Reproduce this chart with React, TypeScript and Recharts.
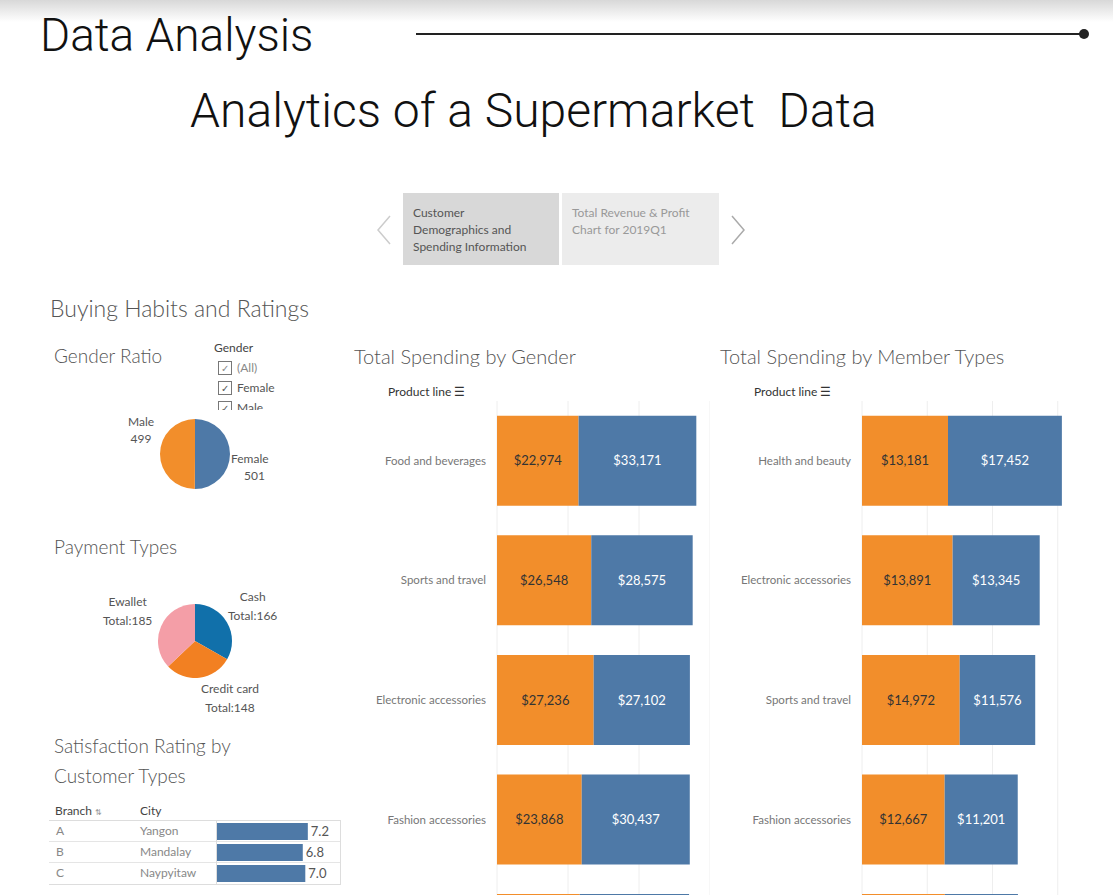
import React from "react";
import { BarChart, Bar, XAxis, YAxis, CartesianGrid, LabelList, PieChart, Pie, Cell } from "recharts";

const genderCategories = ["Food and beverages", "Sports and travel", "Electronic accessories", "Fashion accessories", "Home and lifestyle"];
const genderOrange = [22974, 26548, 27236, 23868, 23300];
const genderBlue = [33171, 28575, 27102, 30437, 30800];

const memberCategories = ["Health and beauty", "Electronic accessories", "Sports and travel", "Fashion accessories", "Food and beverages"];
const memberOrange = [13181, 13891, 14972, 12667, 12700];
const memberBlue = [17452, 13345, 11576, 11201, 11200];

const genderPie = [{ name: "Female", value: 501 }, { name: "Male", value: 499 }];
const paymentPie = [{ name: "Cash", value: 166 }, { name: "Credit card", value: 148 }, { name: "Ewallet", value: 185 }];

const branches = ["A", "B", "C"];
const cities = ["Yangon", "Mandalay", "Naypyitaw"];
const ratings = [7.2, 6.8, 7.0];

const ORANGE = "#f28e2b";
const BLUE = "#4e79a7";
const FONT = "Lato, 'Open Sans', sans-serif";

const genderData = genderCategories.map((c, i) => ({ c, o: genderOrange[i], b: genderBlue[i] }));
const memberData = memberCategories.map((c, i) => ({ c, o: memberOrange[i], b: memberBlue[i] }));
const ratingData = branches.map((b, i) => ({ b, city: cities[i], r: ratings[i] }));

const money = (v: any) => "$" + Number(v).toLocaleString("en-US");

const abs = (x: number, y: number, extra: any = {}) => ({ position: "absolute" as const, left: x, top: y, ...extra });

function SpendChart({ data, left, yw, pw, max, ticks }: any) {
  return (
    <div style={abs(left, 401)}>
      <BarChart width={yw + pw} height={598} data={data} layout="vertical" margin={{ top: 0, right: 0, bottom: 0, left: 0 }} barCategoryGap="12.3%">
        <CartesianGrid horizontal={false} stroke="#eeeeee" />
        <XAxis type="number" hide domain={[0, max]} ticks={ticks} />
        <YAxis type="category" dataKey="c" width={yw} axisLine={false} tickLine={false}
          tick={{ fill: "#777", fontSize: 11.5, fontFamily: FONT }} tickMargin={5} />
        <Bar dataKey="o" stackId="s" fill={ORANGE} isAnimationActive={false}>
          <LabelList dataKey="o" position="center" formatter={money} fill="#333" fontSize={13} fontFamily={FONT} />
        </Bar>
        <Bar dataKey="b" stackId="s" fill={BLUE} isAnimationActive={false}>
          <LabelList dataKey="b" position="center" formatter={money} fill="#fff" fontSize={13} fontFamily={FONT} />
        </Bar>
      </BarChart>
    </div>
  );
}

function Chevron({ x, dir, color }: any) {
  return (
    <svg style={abs(x, 214)} width="18" height="32">
      <polyline points={dir < 0 ? "15,2 3,16 15,30" : "3,2 15,16 3,30"} fill="none" stroke={color} strokeWidth="1.5" />
    </svg>
  );
}

export default function App() {
  const t = { fontFamily: FONT, color: "#555", fontWeight: 300 };
  return (
    <div style={{ position: "fixed", left: 0, top: 0, width: 1113, height: 895, overflow: "hidden", background: "#fff", fontFamily: FONT }}>
      <div style={abs(0, 0, { width: 1113, height: 22, background: "linear-gradient(#d8d8d8, #ffffff)" })} />
      <div style={abs(40, 8, { fontFamily: "Roboto, sans-serif", fontWeight: 300, fontSize: 46, color: "#111" })}>Data Analysis</div>
      <div style={abs(416, 33, { width: 668, height: 2, background: "#222" })} />
      <div style={abs(1079, 29, { width: 10, height: 10, borderRadius: 5, background: "#222" })} />
      <div style={abs(190, 82, { fontFamily: "Roboto, sans-serif", fontWeight: 300, fontSize: 48, color: "#111", whiteSpace: "pre" })}>Analytics of a Supermarket  Data</div>

      <Chevron x={375} dir={-1} color="#ccc" />
      <div style={abs(403, 193, { width: 156, height: 72, background: "#d8d8d8" })}>
        <div style={{ padding: "11px 10px", fontSize: 12, lineHeight: "17px", color: "#555" }}>Customer<br />Demographics and<br />Spending Information</div>
      </div>
      <div style={abs(562, 193, { width: 157, height: 72, background: "#ececec" })}>
        <div style={{ padding: "11px 10px", fontSize: 12, lineHeight: "17px", color: "#999" }}>Total Revenue &amp; Profit<br />Chart for 2019Q1</div>
      </div>
      <Chevron x={729} dir={1} color="#aaa" />

      <div style={abs(50, 294, { ...t, fontSize: 23 })}>Buying Habits and Ratings</div>
      <div style={abs(54, 344, { ...t, fontSize: 19 })}>Gender Ratio</div>
      <div style={abs(214, 338, { fontSize: 12, color: "#444", lineHeight: "20px", height: 72, overflow: "hidden" })}>
        <div>Gender</div>
        {["(All)", "Female", "Male"].map((g) => (
          <div key={g} style={{ display: "flex", alignItems: "center", gap: 5, marginLeft: 4, color: g === "(All)" ? "#888" : "#555" }}>
            <span style={{ width: 12, height: 12, border: "1px solid #777", fontSize: 10, lineHeight: "12px", textAlign: "center" }}>✓</span>{g}
          </div>
        ))}
      </div>
      <div style={abs(155, 414)}>
        <PieChart width={80} height={80} margin={{ top: 0, right: 0, bottom: 0, left: 0 }}>
          <Pie data={genderPie} dataKey="value" cx={40} cy={40} outerRadius={35} startAngle={90} endAngle={-270} stroke="none" isAnimationActive={false}>
            <Cell fill={BLUE} /><Cell fill={ORANGE} />
          </Pie>
        </PieChart>
      </div>
      <div style={abs(128, 413, { fontSize: 12, color: "#555", textAlign: "center", lineHeight: "17px" })}>Male<br />499</div>
      <div style={abs(231, 450, { fontSize: 12, color: "#555", textAlign: "center", lineHeight: "17px" })}>Female<br />&nbsp;&nbsp;&nbsp;501</div>

      <div style={abs(54, 535, { ...t, fontSize: 19 })}>Payment Types</div>
      <div style={abs(155, 601)}>
        <PieChart width={80} height={80} margin={{ top: 0, right: 0, bottom: 0, left: 0 }}>
          <Pie data={paymentPie} dataKey="value" cx={40} cy={40} outerRadius={37} startAngle={90} endAngle={-270} stroke="none" isAnimationActive={false}>
            <Cell fill="#1170aa" /><Cell fill="#f28022" /><Cell fill="#f49ea7" />
          </Pie>
        </PieChart>
      </div>
      <div style={abs(103, 592, { fontSize: 12, color: "#555", textAlign: "center", lineHeight: "19px" })}>Ewallet<br />Total:185</div>
      <div style={abs(228, 587, { fontSize: 12, color: "#555", textAlign: "center", lineHeight: "19px" })}>Cash<br />Total:166</div>
      <div style={abs(201, 679, { fontSize: 12, color: "#555", textAlign: "center", lineHeight: "19px" })}>Credit card<br />Total:148</div>

      <div style={abs(54, 731, { ...t, fontSize: 19, lineHeight: "30px" })}>Satisfaction Rating by<br />Customer Types</div>
      <div style={abs(55, 803, { fontSize: 12, color: "#444" })}>Branch <span style={{ fontSize: 8, color: "#999" }}>⇅</span></div>
      <div style={abs(140, 803, { fontSize: 12, color: "#444" })}>City</div>
      <div style={abs(49, 820, { width: 291, height: 63, borderTop: "1px solid #ddd", borderBottom: "1px solid #ddd", borderRight: "1px solid #ddd" })}>
        {ratingData.map((r, i) => (
          <div key={r.b} style={{ position: "absolute", top: i * 21, height: 20, width: 291, borderBottom: i < 2 ? "1px solid #e5e5e5" : "none", fontSize: 12, color: "#888", lineHeight: "20px" }}>
            <span style={{ position: "absolute", left: 7 }}>{r.b}</span>
            <span style={{ position: "absolute", left: 91 }}>{r.city}</span>
          </div>
        ))}
        <div style={{ position: "absolute", left: 167, top: 0, width: 1, height: 63, background: "#ddd" }} />
      </div>
      <div style={abs(217, 821)}>
        <BarChart width={123} height={63} data={ratingData} layout="vertical" margin={{ top: 0, right: 0, bottom: 0, left: 0 }} barCategoryGap={2}>
          <XAxis type="number" hide domain={[0, 9.75]} />
          <YAxis type="category" dataKey="b" hide />
          <Bar dataKey="r" fill={BLUE} isAnimationActive={false}>
            <LabelList dataKey="r" position="right" offset={3} formatter={(v: any) => Number(v).toFixed(1)} fill="#555" fontSize={13} fontFamily={FONT} />
          </Bar>
        </BarChart>
      </div>

      <div style={abs(354, 344, { ...t, fontSize: 20 })}>Total Spending by Gender</div>
      <div style={abs(388, 384, { fontSize: 12, color: "#333" })}>Product line ☰</div>
      <SpendChart data={genderData} left={350} yw={147} pw={213} max={60000} ticks={[0, 20000, 40000, 60000]} />

      <div style={abs(720, 344, { ...t, fontSize: 20 })}>Total Spending by Member Types</div>
      <div style={abs(754, 384, { fontSize: 12, color: "#333" })}>Product line ☰</div>
      <SpendChart data={memberData} left={720} yw={142} pw={261} max={40000} ticks={[0, 10000, 20000, 30000, 40000]} />
    </div>
  );
}
